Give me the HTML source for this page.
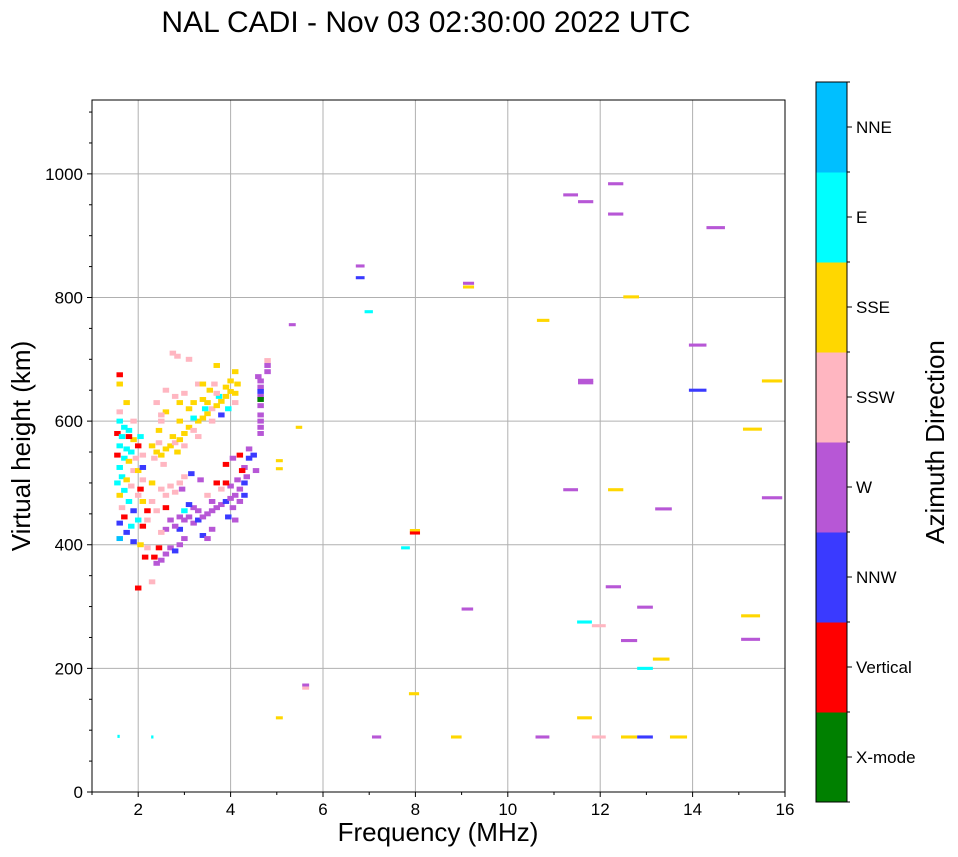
<!DOCTYPE html>
<html><head><meta charset="utf-8">
<style>
html,body{margin:0;padding:0;background:#fff;}
svg{display:block;font-family:"Liberation Sans","DejaVu Sans",sans-serif;}
</style></head>
<body>
<svg id="chart" width="958" height="857" viewBox="0 0 958 857" xmlns="http://www.w3.org/2000/svg">
<text x="426" y="32" font-size="30" text-anchor="middle">NAL CADI - Nov 03 02:30:00 2022 UTC</text>
<g id="grid"></g>
<g id="marks"></g>
<rect x="92" y="100" width="693" height="692" fill="none" stroke="#000" stroke-width="1"/>
<g id="axes"></g>
<text x="438" y="841" font-size="26" text-anchor="middle">Frequency (MHz)</text>
<text transform="translate(30,446) rotate(-90)" font-size="26" text-anchor="middle">Virtual height (km)</text>
<g id="cbar"></g>
<text transform="translate(944,442) rotate(-90)" font-size="26" text-anchor="middle">Azimuth Direction</text>
</svg>
<script>
const dirLabels = ["X-mode","Vertical","NNW","W","SSW","SSE","E","NNE"];
const dirColors = ["#008000","#ff0000","#3a3aff","#b757d6","#ffb6c1","#ffd700","#00ffff","#00bfff"];
const xTicks = [2,4,6,8,10,12,14,16];
const yTicks = [0,200,400,600,800,1000];

const clusterFreq = [
1.6,1.6,1.75,1.6,1.6,1.7,1.8,1.55,1.65,1.9,1.6,1.75,1.85,1.55,1.7,1.8,1.6,1.9,1.65,1.75,1.55,1.85,1.7,1.6,1.8,1.65,1.9,1.7,1.6,1.85,1.75,1.6,1.9,1.8,1.9,1.95,
2.0,2.05,2.1,2.0,2.1,2.05,2.0,2.1,2.0,2.1,2.05,2.15,2.2,2.0,2.3,2.1,
2.3,2.4,2.5,2.35,2.45,2.6,2.7,2.55,2.8,2.9,3.0,2.75,3.1,3.2,3.3,3.4,3.5,3.6,3.7,3.8,3.9,4.0,3.2,3.45,3.75,3.9,4.0,3.6,3.3,3.0,2.85,3.5,3.7,3.4,3.1,2.9,2.6,2.5,2.45,2.5,3.8,3.95,4.1,4.1,4.15,4.1,3.3,3.55,3.65,2.8,2.9,3.2,2.4,2.6,2.75,2.85,3.1,3.7,3.0,3.4,
2.4,2.5,2.35,2.45,2.6,2.7,2.8,2.9,3.0,2.9,3.0,3.1,3.2,3.3,3.4,3.5,3.6,3.7,3.8,3.9,4.0,4.1,4.2,4.3,4.35,4.3,4.4,4.25,4.15,4.0,3.9,4.05,3.95,4.1,4.2,4.3,3.4,3.5,3.6,3.2,3.3,3.1,3.0,2.9,2.8,3.6,3.8,3.5,3.7,3.9,4.05,4.2,4.4,4.5,3.35,2.95,3.15,2.6,2.7,
2.3,2.5,2.6,2.7,2.8,2.9,2.4,2.2,2.5,3.0,2.3,2.6,2.2,
4.65,4.65,4.65,4.65,4.65,4.65,4.65,4.65,4.6,4.8,4.8,4.8,4.65,4.65,4.55
];
const clusterHeight = [
675,660,630,615,600,590,585,580,575,570,560,555,550,545,540,535,525,520,510,505,500,495,488,480,470,460,455,445,435,430,420,410,405,575,600,540,
560,575,545,520,505,490,480,470,440,430,400,380,395,330,340,525,
560,550,545,540,565,555,560,530,565,570,580,575,590,585,600,605,612,620,625,632,640,648,605,620,640,655,665,600,575,560,550,630,645,635,620,600,615,610,585,600,610,620,630,645,660,680,660,650,660,640,630,630,630,650,710,705,700,690,645,660,
370,375,380,395,385,395,390,400,410,425,440,445,435,440,445,450,455,460,465,470,475,480,490,500,510,525,540,520,505,495,500,460,445,440,470,480,415,410,425,460,455,465,455,445,430,470,490,480,500,530,540,545,555,545,505,490,515,425,440,
470,490,480,495,485,500,455,440,420,510,500,460,455,
580,590,600,610,625,640,655,665,672,690,698,680,648,635,520
];
const clusterDir = [
1,5,5,4,6,6,6,1,6,5,6,6,6,1,6,5,6,4,6,5,6,4,6,5,6,4,2,1,2,6,2,7,2,1,4,4,
1,6,4,5,4,1,4,5,6,1,5,1,4,1,4,2,
5,5,5,4,4,5,5,4,4,5,5,5,5,4,5,5,5,4,5,5,5,5,6,6,6,5,5,4,4,4,5,5,4,5,5,5,5,4,5,4,2,6,4,5,5,5,4,5,4,4,5,5,4,4,4,4,4,5,4,5,
3,3,1,1,3,3,2,3,3,2,3,3,3,2,3,3,3,3,3,2,3,3,3,2,3,3,2,1,3,3,1,3,2,3,3,2,2,3,3,3,3,2,6,3,3,3,4,4,1,1,3,1,3,2,3,3,2,3,3,
4,4,4,4,4,4,4,4,4,4,5,1,1,
3,3,3,3,3,3,3,3,3,3,4,3,2,0,3
];

const sparseStart = [6.71,6.71,9.03,9.03,6.9,5.26,10.63,5.41,4.98,4.98,7.88,7.88,7.69,12.17,11.2,11.52,12.17,14.3,12.5,13.92,11.52,11.52,15.5,13.92,15.09,11.2,12.17,13.19,15.5,12.12,9.0,12.8,15.05,11.5,11.82,15.05,12.45,13.14,12.8,5.55,5.55,7.86,4.98,11.5,7.06,8.77,10.6,11.82,12.45,12.8,13.51,1.55,2.28];
const sparseEnd = [6.9,6.9,9.27,9.27,7.08,5.41,10.9,5.55,5.13,5.13,8.1,8.1,7.88,12.5,11.52,11.85,12.5,14.7,12.84,14.3,11.85,11.85,15.94,14.3,15.5,11.52,12.5,13.55,15.94,12.45,9.25,13.14,15.46,11.82,12.12,15.46,12.8,13.5,13.14,5.7,5.7,8.08,5.13,11.82,7.26,9.0,10.9,12.12,12.8,13.14,13.88,1.6,2.33];
const sparseHeight = [851,832,823,817,777,756,763,590,536,523,423,419,395,984,966,955,935,913,801,723,666,662,665,650,587,489,489,458,476,332,296,299,285,275,269,247,245,215,200,173,168,159,120,120,89,89,89,89,89,89,89,90,89];
const sparseDir = [3,2,3,5,6,3,5,5,5,5,5,1,6,3,3,3,3,3,5,3,3,3,5,2,5,3,5,3,3,3,3,3,5,6,4,3,3,5,6,3,4,5,5,5,3,5,3,4,5,2,5,6,6];

const NS = "http://www.w3.org/2000/svg";
const X0=92, X1=785, Y0=792, Y1=100, FMIN=1, FMAX=16, HMIN=0, HMAX=1119.5;
function xs(f){return X0+(f-FMIN)/(FMAX-FMIN)*(X1-X0);}
function ys(h){return Y0-(h-HMIN)/(HMAX-HMIN)*(Y0-Y1);}
function mk(tag, attrs, parent){const e=document.createElementNS(NS,tag);for(const k in attrs)e.setAttribute(k,attrs[k]);parent.appendChild(e);return e;}

const grid=document.getElementById('grid'), axes=document.getElementById('axes'), marks=document.getElementById('marks'), cbar=document.getElementById('cbar');

xTicks.forEach(t=>{
  const x=xs(t);
  const l=mk('line',{x1:x,x2:x,y1:Y1,y2:Y0,stroke:'#b0b0b0','stroke-width':1},grid);
  
  
  mk('line',{x1:x,x2:x,y1:Y0,y2:Y0+5,stroke:'#000'},axes);
  const tx=mk('text',{x:x,y:Y0+23,'font-size':17,'text-anchor':'middle'},axes);
  tx.textContent=t;
  
  
});
for(let f=1;f<=15;f+=2){const x=xs(f);mk('line',{x1:x,x2:x,y1:Y0,y2:Y0+3,stroke:'#000'},axes);}
yTicks.forEach(t=>{
  const y=ys(t);
  if(t>0){
    const l=mk('line',{x1:X0,x2:X1,y1:y,y2:y,stroke:'#b0b0b0','stroke-width':1},grid);
    
    
  }
  mk('line',{x1:X0-5,x2:X0,y1:y,y2:y,stroke:'#000'},axes);
  const tx=mk('text',{x:X0-9,y:y+6,'font-size':17,'text-anchor':'end'},axes);
  tx.textContent=t;
  
  
});
for(let h=50;h<1120;h+=50){if(h%200){const y=ys(h);mk('line',{x1:X0-3,x2:X0,y1:y,y2:y,stroke:'#000'},axes);}}

const n=Math.min(clusterFreq.length,clusterHeight.length,clusterDir.length);
for(let i=0;i<n;i++){
  const r=mk('rect',{x:xs(clusterFreq[i]-0.07),y:ys(clusterHeight[i]+4),width:xs(0.14)-xs(0),height:ys(0)-ys(8),fill:dirColors[clusterDir[i]]},marks);
  
  
}
for(let i=0;i<sparseStart.length;i++){
  const r=mk('rect',{x:xs(sparseStart[i]),y:ys(sparseHeight[i]+2.5),width:xs(sparseEnd[i])-xs(sparseStart[i]),height:ys(0)-ys(5),fill:dirColors[sparseDir[i]]},marks);
  
  
}

const CB_X=816, CB_W=31, CB_TOP=82, CB_BOT=802, seg=(CB_BOT-CB_TOP)/dirLabels.length;
dirLabels.forEach((lab,i)=>{
  const y=CB_BOT-(i+1)*seg;
  const r=mk('rect',{x:CB_X,y:y,width:CB_W,height:seg+0.5,fill:dirColors[i]},cbar);
  
  
  mk('line',{x1:CB_X+CB_W,x2:CB_X+CB_W+5,y1:y+seg/2,y2:y+seg/2,stroke:'#000'},cbar);
  mk('line',{x1:CB_X+CB_W,x2:CB_X+CB_W+3,y1:y,y2:y,stroke:'#000'},cbar);
  const t=mk('text',{x:CB_X+CB_W+9,y:y+seg/2+6,'font-size':17},cbar);
  t.textContent=lab;
  
  
});
mk('line',{x1:CB_X+CB_W,x2:CB_X+CB_W+3,y1:CB_BOT,y2:CB_BOT,stroke:'#000'},cbar);
mk('rect',{x:CB_X,y:CB_TOP,width:CB_W,height:CB_BOT-CB_TOP,fill:'none',stroke:'#000','stroke-width':1},cbar);
</script>
</body></html>
